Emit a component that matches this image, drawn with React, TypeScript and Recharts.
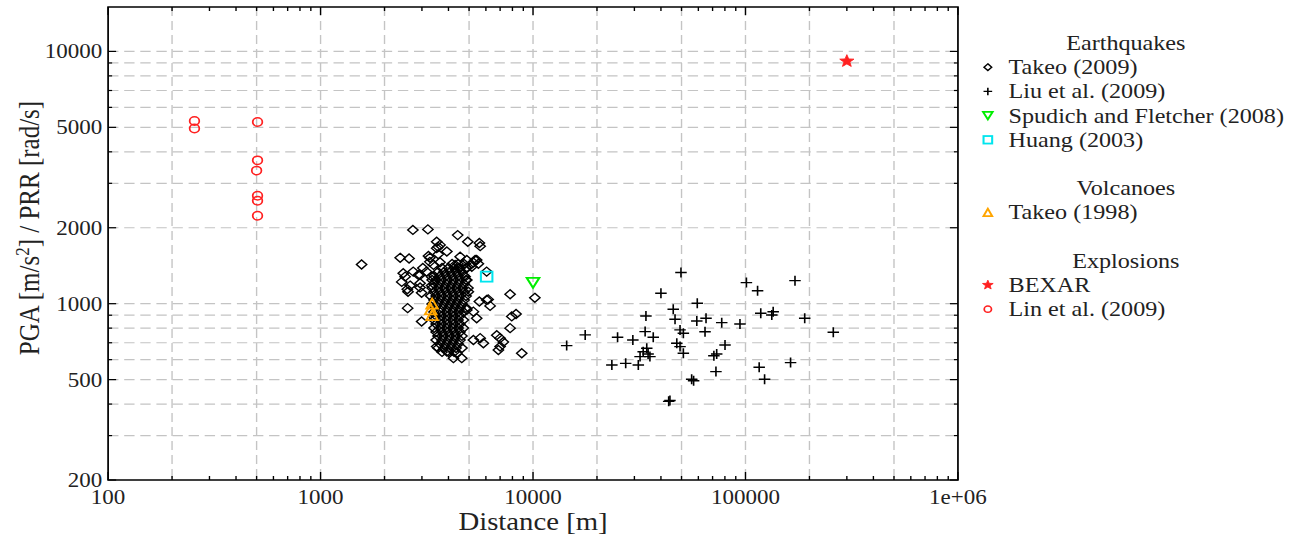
import { ScatterChart, Scatter, XAxis, YAxis, CartesianGrid, ReferenceArea, Legend } from "recharts";

// the reference is stretched sideways, so draw narrower and scale the whole box
const STRETCH = 1.15;
const WIDTH = 1125;
const HEIGHT = 543;
const PLOT_LEFT = 94;
const PLOT_RIGHT = 833;
const PLOT_TOP = 7;
const PLOT_BOTTOM = 480;
const FONT = '"Liberation Serif", "Times New Roman", serif';

const X_TICKS = [
  100, 200, 300, 400, 500, 600, 700, 800, 900,
  1000, 2000, 3000, 4000, 5000, 6000, 7000, 8000, 9000,
  10000, 20000, 30000, 40000, 50000, 60000, 70000, 80000, 90000,
  100000, 200000, 300000, 400000, 500000, 600000, 700000, 800000, 900000,
  1000000,
];
const X_MAJOR = [100, 1000, 10000, 100000, 1000000];
const X_LABELS = ["100", "1000", "10000", "100000", "1e+06"];
const X_GRID = [200, 500, 1000, 2000, 5000, 10000, 20000, 50000, 100000, 200000, 500000];

const Y_TICKS = [
  200, 300, 400, 500, 600, 700, 800, 900,
  1000, 2000, 3000, 4000, 5000, 6000, 7000, 8000, 9000,
  10000,
];
const Y_MAJOR = [200, 500, 1000, 2000, 5000, 10000];
const Y_LABELS = ["200", "500", "1000", "2000", "5000", "10000"];
const Y_GRID = [
  300, 400, 500, 600, 700, 800, 900,
  1000, 2000, 3000, 4000, 5000, 6000, 7000, 8000, 9000,
  10000,
];

// [distance m, PGA/PRR]
const TAKEO_2009: [number, number][] = [
  [1560, 1430],
  [2720, 1960], [3200, 1970],
  [4420, 1870], [4930, 1760], [5590, 1740], [5640, 1690],
  [3520, 1760], [3580, 1680], [3650, 1710], [3520, 1660], [3580, 1570],
  [2370, 1520], [2610, 1510],
  [3220, 1545], [3270, 1465], [3270, 1520], [3400, 1425], [3650, 1460],
  [3930, 1610], [4540, 1535], [4880, 1490], [5430, 1490], [5530, 1440], [5150, 1400],
  [4300, 1425], [4470, 1385], [5240, 1455], [5050, 1425], [4880, 1385], [5340, 1490],
  [6050, 1340], [4790, 1280],
  [2450, 1320], [2410, 1220], [2560, 1140], [2940, 1205], [2990, 1105], [2730, 1340], [2885, 1300],
  [3030, 1385], [3150, 1340], [2940, 1300], [3330, 1280],
  [2500, 1280], [2640, 1180], [2940, 1160], [3330, 1180],
  [4880, 1240], [4960, 1115], [5590, 1020], [6050, 1035], [6150, 1040], [6280, 980], [7800, 1090], [10200, 1055],
  [2570, 960], [2990, 850], [3400, 888], [2580, 1115],
  [5430, 875], [4880, 945], [5240, 930],
  [6750, 750], [7000, 730], [7250, 705], [7000, 676], [6870, 655],
  [7940, 890], [8320, 910], [7800, 800], [8850, 636],
  [5240, 718], [5640, 730], [5840, 697],
  [3520, 676], [3930, 646], [4220, 608], [4620, 608], [4370, 636],
  // dense core
  [4160, 1437], [4440, 1437], [4740, 1437],
  [3730, 1385], [4000, 1385], [4250, 1385], [4530, 1385], [4840, 1385],
  [3570, 1336], [3810, 1336], [4070, 1336], [4340, 1336], [4630, 1336],
  [3420, 1288], [3650, 1288], [3900, 1288], [4160, 1288], [4440, 1288], [4740, 1288],
  [3350, 1242], [3500, 1242], [3730, 1242], [3980, 1242], [4250, 1242], [4530, 1242], [4840, 1242],
  [3420, 1197], [3650, 1197], [3900, 1197], [4160, 1197], [4440, 1197], [4740, 1197],
  [3350, 1154], [3570, 1154], [3810, 1154], [4070, 1154], [4340, 1154], [4630, 1154], [4940, 1154],
  [3420, 1113], [3650, 1113], [3900, 1113], [4160, 1113], [4440, 1113], [4740, 1113],
  [3300, 1073], [3500, 1073], [3730, 1073], [3980, 1073], [4250, 1073], [4530, 1073], [4840, 1073],
  [3420, 1034], [3650, 1034], [3900, 1034], [4160, 1034], [4440, 1034], [4740, 1034],
  [3350, 997], [3570, 997], [3810, 997], [4070, 997], [4340, 997], [4630, 997],
  [3460, 962], [3730, 962], [3980, 962], [4250, 962], [4530, 962], [4840, 962],
  [3420, 927], [3650, 927], [3900, 927], [4160, 927], [4440, 927], [4700, 927],
  [3500, 894], [3730, 894], [3980, 894], [4250, 894], [4530, 894],
  [3420, 862], [3650, 862], [3900, 862], [4160, 862], [4440, 862], [4700, 862],
  [3500, 831], [3730, 831], [3980, 831], [4250, 831], [4530, 831],
  [3420, 801], [3650, 801], [3900, 801], [4160, 801], [4440, 801], [4700, 801],
  [3500, 772], [3730, 772], [3980, 772], [4250, 772], [4530, 772],
  [3570, 745], [3810, 745], [4070, 745], [4340, 745], [4630, 745],
  [3500, 718], [3730, 718], [3980, 718], [4250, 718], [4530, 718],
  [3650, 692], [3900, 692], [4160, 692], [4440, 692],
  [3570, 667], [3810, 667], [4070, 667], [4340, 667], [4630, 667],
  [3730, 644], [4000, 644], [4250, 644],
];

const LIU_2009: [number, number][] = [
  [14400, 682], [17600, 752], [25000, 736], [29500, 718], [23500, 571], [27300, 580],
  [34000, 894], [33700, 775], [36800, 736], [34300, 666], [33000, 645], [31900, 617],
  [35500, 617], [31300, 571], [34800, 632],
  [40000, 1100], [49700, 1330], [45700, 950], [46600, 868],
  [49200, 787], [51000, 763], [47500, 697], [49200, 676], [51000, 636],
  [59300, 1004], [59000, 854], [65200, 875], [64500, 774],
  [55800, 502], [57000, 495], [44100, 413], [43500, 410],
  [77300, 841], [73200, 632], [80100, 686], [72600, 538], [71000, 622],
  [101000, 1212], [114000, 1126], [94200, 831],
  [118000, 916], [133000, 902], [135000, 929],
  [116000, 560], [123000, 502],
  [171000, 1234], [190000, 875], [163000, 584], [259000, 770],
];

const SPUDICH_2008: [number, number][] = [[10000, 1210]];
const HUANG_2003: [number, number][] = [[6050, 1280]];
const TAKEO_1998: [number, number][] = [[3350, 1000], [3300, 950], [3350, 900]];
const BEXAR: [number, number][] = [[300000, 9150]];
const LIN_2009: [number, number][] = [
  [255, 5300], [255, 4950],
  [505, 5250], [505, 3700], [500, 3370], [505, 2680], [505, 2560], [505, 2230],
];

const LEGEND_ROWS: { kind: "title" | "item" | "blank"; text?: string; key?: string }[] = [
  { kind: "title", text: "Earthquakes" },
  { kind: "item", text: "Takeo (2009)", key: "diamond" },
  { kind: "item", text: "Liu et al. (2009)", key: "plus" },
  { kind: "item", text: "Spudich and Fletcher (2008)", key: "down" },
  { kind: "item", text: "Huang (2003)", key: "square" },
  { kind: "blank" },
  { kind: "title", text: "Volcanoes" },
  { kind: "item", text: "Takeo (1998)", key: "up" },
  { kind: "blank" },
  { kind: "title", text: "Explosions" },
  { kind: "item", text: "BEXAR", key: "star" },
  { kind: "item", text: "Lin et al. (2009)", key: "circle" },
];

const toPoints = (pairs: [number, number][]) => pairs.map(([x, y]) => ({ x, y }));

const GREEN = "#00ee00";
const CYAN = "#00e5ee";
const ORANGE = "#ffa500";
const RED = "#ff2020";

const starPath = (cx: number, cy: number, r: number) => {
  let d = "";
  for (let i = 0; i < 10; i++) {
    const rr = i % 2 === 0 ? r : r * 0.42;
    const a = -Math.PI / 2 + (i * Math.PI) / 5;
    d += `${i === 0 ? "M" : "L"}${cx + rr * Math.cos(a)},${cy + rr * Math.sin(a)}`;
  }
  return d + "Z";
};

const Marker = ({ kind, cx, cy, s }: { kind: string; cx: number; cy: number; s: number }) => {
  switch (kind) {
    case "diamond":
      return (
        <path d={`M${cx},${cy - 4.5 * s}L${cx + 4.5 * s},${cy}L${cx},${cy + 4.5 * s}L${cx - 4.5 * s},${cy}Z`}
          fill="none" stroke="#000" strokeWidth={1.3} />
      );
    case "plus":
      return (
        <path d={`M${cx - 5 * s},${cy}H${cx + 5 * s}M${cx},${cy - 5 * s}V${cy + 5 * s}`}
          stroke="#000" strokeWidth={1.4} />
      );
    case "down":
      return (
        <path d={`M${cx - 5.5 * s},${cy - 5 * s}H${cx + 5.5 * s}L${cx},${cy + 5 * s}Z`}
          fill="none" stroke={GREEN} strokeWidth={1.8} />
      );
    case "square":
      return (
        <rect x={cx - 5 * s} y={cy - 5 * s} width={10 * s} height={10 * s}
          fill="none" stroke={CYAN} strokeWidth={1.8} />
      );
    case "up":
      return (
        <path d={`M${cx - 5 * s},${cy + 5 * s}H${cx + 5 * s}L${cx},${cy - 5 * s}Z`}
          fill="none" stroke={ORANGE} strokeWidth={1.8} />
      );
    case "star":
      return <path d={starPath(cx, cy, 6.5 * s)} fill={RED} stroke={RED} strokeWidth={0.8} />;
    default:
      return <circle cx={cx} cy={cy} r={4.2 * s} fill="none" stroke={RED} strokeWidth={1.5} />;
  }
};

const shapeOf = (kind: string) => (props: any) => <Marker kind={kind} cx={props.cx} cy={props.cy} s={1} />;

const XTick = (props: any) => {
  const { x, payload } = props;
  const i = X_MAJOR.indexOf(payload.value);
  const len = i >= 0 ? 8 : 4;
  return (
    <g>
      <line x1={x} x2={x} y1={PLOT_BOTTOM} y2={PLOT_BOTTOM - len} stroke="#000" strokeWidth={1.2} />
      <line x1={x} x2={x} y1={PLOT_TOP} y2={PLOT_TOP + len} stroke="#000" strokeWidth={1.2} />
      {i >= 0 && (
        <text x={x} y={PLOT_BOTTOM + 24} textAnchor="middle" fontFamily={FONT} fontSize={20} fill="#222">
          {X_LABELS[i]}
        </text>
      )}
    </g>
  );
};

const YTick = (props: any) => {
  const { y, payload } = props;
  const i = Y_MAJOR.indexOf(payload.value);
  const len = i >= 0 ? 7 : 3.5;
  return (
    <g>
      <line x1={PLOT_LEFT} x2={PLOT_LEFT + len} y1={y} y2={y} stroke="#000" strokeWidth={1.2} />
      <line x1={PLOT_RIGHT} x2={PLOT_RIGHT - len} y1={y} y2={y} stroke="#000" strokeWidth={1.2} />
      {i >= 0 && (
        <text x={PLOT_LEFT - 5} y={y + 7} textAnchor="end" fontFamily={FONT} fontSize={20} fill="#222">
          {Y_LABELS[i]}
        </text>
      )}
    </g>
  );
};

const XTitle = () => (
  <text x={(PLOT_LEFT + PLOT_RIGHT) / 2} y={530} textAnchor="middle" fontFamily={FONT} fontSize={25} fill="#222">
    Distance [m]
  </text>
);

const YTitle = () => (
  <text transform="translate(34, 228) rotate(-90)" textAnchor="middle" fontFamily={FONT} fontSize={25} fill="#222">
    PGA [m/s<tspan dy={-9} fontSize={17}>2</tspan>
    <tspan dy={9}>] / PRR [rad/s]</tspan>
  </text>
);

const LEGEND_LEFT = 840;
const LegendBox = () => (
  <svg width={WIDTH - LEGEND_LEFT} height={340} style={{ display: "block" }}>
    {LEGEND_ROWS.map((row, i) => {
      const cy = 43 + i * 24.2;
      if (row.kind === "title") {
        return (
          <text key={i} x={139} y={cy + 7} textAnchor="middle" fontFamily={FONT} fontSize={21} fill="#222">
            {row.text}
          </text>
        );
      }
      if (row.kind === "item") {
        return (
          <g key={i}>
            <Marker kind={row.key as string} cx={19} cy={cy} s={0.75} />
            <text x={37} y={cy + 7} fontFamily={FONT} fontSize={21} fill="#222">
              {row.text}
            </text>
          </g>
        );
      }
      return null;
    })}
  </svg>
);

export default function App() {
  return (
    <div
      style={{
        position: "absolute",
        left: 0,
        top: 0,
        width: WIDTH,
        height: HEIGHT,
        background: "#fff",
        transform: `scaleX(${STRETCH})`,
        transformOrigin: "0 0",
      }}
    >
      <ScatterChart
        width={WIDTH}
        height={HEIGHT}
        margin={{ top: PLOT_TOP, right: WIDTH - PLOT_RIGHT, bottom: 0, left: 0 }}
      >
        <CartesianGrid
          horizontalValues={Y_GRID}
          verticalValues={X_GRID}
          stroke="#c4c4c4"
          strokeWidth={1.2}
          strokeDasharray="9 5"
        />
        <XAxis
          type="number"
          dataKey="x"
          scale="log"
          domain={[100, 1000000]}
          allowDataOverflow
          ticks={X_TICKS}
          interval={0}
          tick={(p: any) => <XTick {...p} />}
          tickLine={false}
          axisLine={false}
          tickSize={0}
          height={HEIGHT - PLOT_BOTTOM}
          label={<XTitle />}
        />
        <YAxis
          type="number"
          dataKey="y"
          scale="log"
          domain={[200, 15000]}
          allowDataOverflow
          ticks={Y_TICKS}
          interval={0}
          tick={(p: any) => <YTick {...p} />}
          tickLine={false}
          axisLine={false}
          tickSize={0}
          width={PLOT_LEFT}
          label={<YTitle />}
        />
        <ReferenceArea
          x1={100}
          x2={1000000}
          y1={200}
          y2={15000}
          fill="none"
          stroke="#000"
          strokeWidth={1.5}
          ifOverflow="visible"
        />
        <Legend
          layout="vertical"
          align="center"
          verticalAlign="middle"
          content={() => <LegendBox />}
          wrapperStyle={{ left: LEGEND_LEFT, top: 0, width: WIDTH - LEGEND_LEFT, height: 340 }}
        />
        <Scatter name="Takeo (2009)" data={toPoints(TAKEO_2009)} shape={shapeOf("diamond")} isAnimationActive={false} />
        <Scatter name="Liu et al. (2009)" data={toPoints(LIU_2009)} shape={shapeOf("plus")} isAnimationActive={false} />
        <Scatter name="Spudich and Fletcher (2008)" data={toPoints(SPUDICH_2008)} shape={shapeOf("down")} isAnimationActive={false} />
        <Scatter name="Huang (2003)" data={toPoints(HUANG_2003)} shape={shapeOf("square")} isAnimationActive={false} />
        <Scatter name="Takeo (1998)" data={toPoints(TAKEO_1998)} shape={shapeOf("up")} isAnimationActive={false} />
        <Scatter name="BEXAR" data={toPoints(BEXAR)} shape={shapeOf("star")} isAnimationActive={false} />
        <Scatter name="Lin et al. (2009)" data={toPoints(LIN_2009)} shape={shapeOf("circle")} isAnimationActive={false} />
      </ScatterChart>
    </div>
  );
}
